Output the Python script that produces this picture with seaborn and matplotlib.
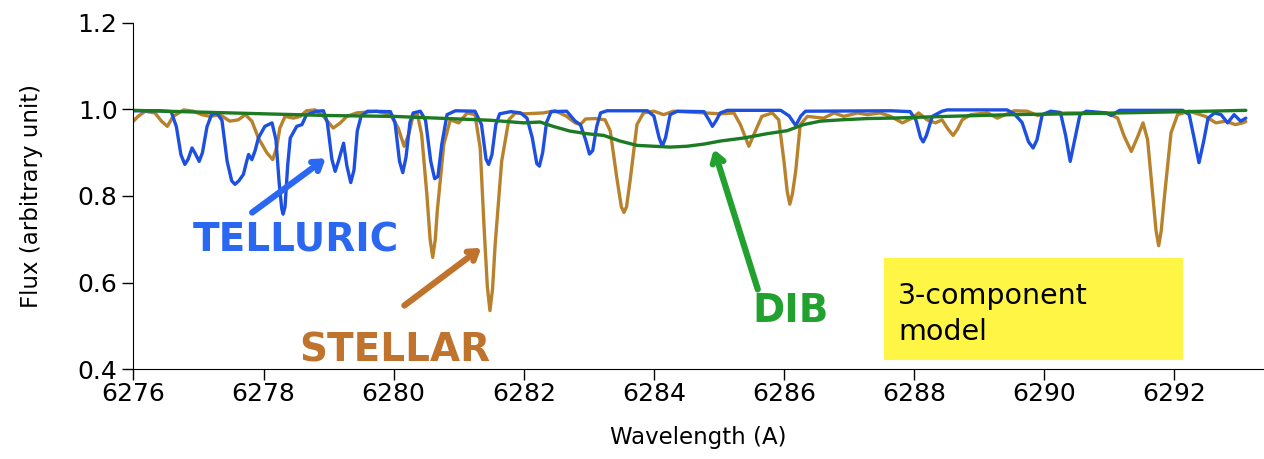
import numpy as np
import pandas as pd
import matplotlib
matplotlib.use("Agg")
import matplotlib.pyplot as plt
from matplotlib.patches import Rectangle
import seaborn as sns

# Componente telúrica (azul)
tel_wl = [6276.00, 6276.40, 6276.58, 6276.66, 6276.73, 6276.79, 6276.84, 6276.90, 6276.95, 6277.01,
          6277.06, 6277.13, 6277.20, 6277.28, 6277.36, 6277.44, 6277.51, 6277.56, 6277.62, 6277.69,
          6277.74, 6277.77, 6277.82, 6277.87, 6277.92, 6278.02, 6278.13, 6278.19, 6278.24, 6278.28,
          6278.30, 6278.33, 6278.37, 6278.41, 6278.51, 6278.59, 6278.66, 6278.82, 6278.92, 6278.98,
          6279.05, 6279.10, 6279.15, 6279.23, 6279.28, 6279.34, 6279.39, 6279.44, 6279.50, 6279.60,
          6279.95, 6280.02, 6280.09, 6280.14, 6280.19, 6280.25, 6280.30, 6280.41, 6280.49, 6280.57,
          6280.63, 6280.68, 6280.74, 6280.82, 6280.95, 6281.25, 6281.35, 6281.42, 6281.46, 6281.51,
          6281.57, 6281.63, 6281.80, 6281.95, 6282.05, 6282.13, 6282.20, 6282.24, 6282.29, 6282.35,
          6282.42, 6282.66, 6282.79, 6282.87, 6282.95, 6283.01, 6283.06, 6283.12, 6283.18, 6283.28,
          6283.90, 6284.00, 6284.08, 6284.13, 6284.18, 6284.25, 6284.36, 6284.77, 6284.85, 6284.90,
          6284.96, 6285.02, 6285.13, 6285.95, 6286.08, 6286.18, 6286.26, 6286.33, 6287.64, 6287.94,
          6288.03, 6288.10, 6288.14, 6288.19, 6288.28, 6288.43, 6288.51, 6289.43, 6289.54, 6289.66,
          6289.76, 6289.83, 6289.89, 6289.97, 6290.10, 6290.25, 6290.33, 6290.40, 6290.47, 6290.55,
          6290.65, 6290.96, 6291.03, 6291.16, 6292.13, 6292.23, 6292.31, 6292.38, 6292.45, 6292.52,
          6292.62, 6292.72, 6292.82, 6292.92, 6293.02, 6293.10]
tel_flux = [0.997, 0.997, 0.995, 0.960, 0.895, 0.873, 0.885, 0.911, 0.898, 0.880,
            0.900, 0.960, 0.988, 0.992, 0.975, 0.880, 0.835, 0.827, 0.835, 0.850,
            0.880, 0.896, 0.884, 0.905, 0.934, 0.961, 0.969, 0.930, 0.830, 0.770,
            0.758, 0.775, 0.870, 0.934, 0.961, 0.965, 0.988, 0.996, 0.997, 0.970,
            0.885, 0.857, 0.880, 0.922, 0.870, 0.831, 0.860, 0.950, 0.985, 0.996,
            0.995, 0.970, 0.880, 0.854, 0.890, 0.970, 0.992, 0.996, 0.975, 0.880,
            0.840, 0.845, 0.920, 0.988, 0.997, 0.996, 0.965, 0.885, 0.873, 0.895,
            0.965, 0.990, 0.995, 0.992, 0.980, 0.935, 0.875, 0.869, 0.900, 0.970,
            0.995, 0.996, 0.973, 0.965, 0.930, 0.897, 0.905, 0.960, 0.992, 0.997,
            0.997, 0.985, 0.935, 0.915, 0.935, 0.988, 0.996, 0.995, 0.975, 0.961,
            0.975, 0.992, 0.998, 0.998, 0.985, 0.963, 0.985, 0.996, 0.997, 0.995,
            0.975, 0.935, 0.925, 0.940, 0.984, 0.996, 0.999, 0.999, 0.990, 0.970,
            0.925, 0.911, 0.930, 0.988, 0.996, 0.993, 0.940, 0.880, 0.930, 0.988,
            0.996, 0.992, 0.986, 0.998, 0.998, 0.988, 0.930, 0.877, 0.925, 0.980,
            0.992, 0.988, 0.969, 0.988, 0.973, 0.980]

# Componente estelar (marrom)
ste_wl = [6276.00, 6276.07, 6276.18, 6276.33, 6276.43, 6276.52, 6276.61, 6276.77, 6276.92, 6277.05,
          6277.18, 6277.33, 6277.48, 6277.61, 6277.72, 6277.82, 6277.92, 6278.05, 6278.14, 6278.20,
          6278.25, 6278.33, 6278.46, 6278.56, 6278.66, 6278.79, 6278.92, 6279.07, 6279.18, 6279.28,
          6279.43, 6279.74, 6279.95, 6280.07, 6280.16, 6280.23, 6280.29, 6280.36, 6280.43, 6280.51,
          6280.56, 6280.60, 6280.64, 6280.67, 6280.77, 6280.87, 6281.00, 6281.13, 6281.25, 6281.33,
          6281.39, 6281.44, 6281.48, 6281.52, 6281.56, 6281.66, 6281.77, 6281.87, 6282.02, 6282.30,
          6282.48, 6282.65, 6282.79, 6282.87, 6282.95, 6283.10, 6283.25, 6283.33, 6283.43, 6283.50,
          6283.54, 6283.58, 6283.64, 6283.74, 6283.84, 6284.00, 6284.15, 6284.30, 6284.77, 6285.02,
          6285.23, 6285.33, 6285.46, 6285.56, 6285.66, 6285.82, 6285.92, 6286.00, 6286.05, 6286.09,
          6286.13, 6286.18, 6286.25, 6286.36, 6286.61, 6286.77, 6286.92, 6287.13, 6287.28, 6287.48,
          6287.64, 6287.82, 6287.97, 6288.07, 6288.20, 6288.33, 6288.43, 6288.52, 6288.60, 6288.67,
          6288.74, 6288.87, 6289.13, 6289.28, 6289.54, 6289.74, 6289.90, 6290.05, 6290.38, 6290.69,
          6291.00, 6291.13, 6291.23, 6291.34, 6291.44, 6291.52, 6291.59, 6291.67, 6291.72, 6291.76,
          6291.80, 6291.85, 6291.95, 6292.05, 6292.23, 6292.48, 6292.64, 6292.79, 6292.94, 6293.05,
          6293.10]
ste_flux = [0.973, 0.984, 0.996, 0.992, 0.973, 0.961, 0.984, 0.999, 0.996, 0.988,
            0.984, 0.988, 0.973, 0.976, 0.988, 0.973, 0.934, 0.900, 0.884, 0.911,
            0.957, 0.984, 0.980, 0.984, 0.997, 0.999, 0.984, 0.957, 0.969, 0.984,
            0.992, 0.996, 0.988, 0.957, 0.915, 0.942, 0.980, 0.992, 0.942, 0.804,
            0.700, 0.658, 0.700, 0.765, 0.919, 0.976, 0.969, 0.992, 0.988, 0.911,
            0.727, 0.590, 0.535, 0.585, 0.688, 0.880, 0.976, 0.992, 0.990, 0.992,
            0.997, 0.985, 0.969, 0.965, 0.978, 0.979, 0.976, 0.950, 0.842, 0.775,
            0.762, 0.775, 0.842, 0.965, 0.992, 0.996, 0.988, 0.996, 0.992, 0.990,
            0.992, 0.965, 0.915, 0.950, 0.984, 0.992, 0.976, 0.880, 0.810, 0.781,
            0.805, 0.857, 0.965, 0.984, 0.980, 0.992, 0.984, 0.992, 0.988, 0.992,
            0.984, 0.969, 0.980, 0.992, 0.976, 0.969, 0.976, 0.955, 0.940, 0.955,
            0.976, 0.988, 0.992, 0.980, 0.997, 0.996, 0.986, 0.990, 0.992, 0.992,
            0.990, 0.980, 0.938, 0.903, 0.938, 0.969, 0.930, 0.800, 0.720, 0.685,
            0.720, 0.800, 0.946, 0.988, 0.996, 0.984, 0.969, 0.973, 0.965, 0.969,
            0.972]

# Componente DIB (verde)
dib_wl = [6276.00, 6277.00, 6278.00, 6279.00, 6280.00, 6281.00, 6281.50, 6282.00, 6282.25, 6282.45,
          6282.71, 6282.97, 6283.23, 6283.48, 6283.74, 6284.00, 6284.25, 6284.51, 6284.77, 6285.02,
          6285.38, 6285.74, 6286.05, 6286.30, 6286.56, 6286.87, 6287.28, 6287.64, 6288.50, 6289.50,
          6290.40, 6291.50, 6292.50, 6293.10]
dib_flux = [0.998, 0.994, 0.990, 0.986, 0.984, 0.978, 0.975, 0.969, 0.971, 0.961,
            0.950, 0.944, 0.940, 0.927, 0.917, 0.915, 0.913, 0.915, 0.920, 0.927,
            0.934, 0.944, 0.951, 0.965, 0.973, 0.976, 0.979, 0.980, 0.984, 0.988,
            0.990, 0.993, 0.996, 0.998]

x_ticks = [6276, 6278, 6280, 6282, 6284, 6286, 6288, 6290, 6292]
y_ticks = [0.4, 0.6, 0.8, 1.0, 1.2]

sns.set_style("ticks")
plt.rcParams['font.family'] = ['DejaVu Sans']

fig = plt.figure(figsize=(12.64, 4.59), dpi=100)
ax = fig.add_axes([0.1056, 0.196, 0.8934, 0.754])

df_ste = pd.DataFrame({'wl': ste_wl, 'flux': ste_flux})
df_tel = pd.DataFrame({'wl': tel_wl, 'flux': tel_flux})
df_dib = pd.DataFrame({'wl': dib_wl, 'flux': dib_flux})

sns.lineplot(data=df_ste, x='wl', y='flux', color='#b8822c', lw=2.4, estimator=None, ax=ax)
sns.lineplot(data=df_tel, x='wl', y='flux', color='#1d4fe0', lw=2.4, estimator=None, ax=ax)
sns.lineplot(data=df_dib, x='wl', y='flux', color='#1c7a22', lw=2.4, estimator=None, ax=ax)

ax.set_xlim(6276, 6293.36)
ax.set_ylim(0.4, 1.2)
ax.set_xticks(x_ticks)
ax.set_yticks(y_ticks)
ax.set_yticklabels([f'{v:.1f}' for v in y_ticks])
ax.tick_params(axis='both', labelsize=18, length=8, width=1, colors='black')
ax.tick_params(axis='x', pad=1)
ax.set_xlabel('Wavelength (A)', fontsize=16.5, labelpad=15, color='black')
ax.set_ylabel('Flux (arbitrary unit)', fontsize=16.5, labelpad=25, color='black')
for s in ['left', 'bottom']:
    ax.spines[s].set_color('black')
sns.despine(ax=ax)

# Anotações
seta = '->,head_length=0.6,head_width=0.4'
ax.annotate('', xy=(6278.99, 0.891), xytext=(6277.79, 0.758),
            arrowprops=dict(arrowstyle=seta, color='#2b68f2', lw=4.5))
ax.text(6278.5, 0.698, 'TELLURIC', color='#2b68f2', fontsize=28, fontweight='bold',
        ha='center', va='center')

ax.annotate('', xy=(6281.38, 0.684), xytext=(6280.13, 0.543),
            arrowprops=dict(arrowstyle=seta, color='#c0732c', lw=4.5))
ax.text(6280.02, 0.442, 'STELLAR', color='#c0732c', fontsize=28, fontweight='bold',
        ha='center', va='center')

ax.annotate('', xy=(6284.91, 0.914), xytext=(6285.61, 0.578),
            arrowprops=dict(arrowstyle=seta, color='#23a12f', lw=4.5))
ax.text(6286.1, 0.534, 'DIB', color='#23a12f', fontsize=28, fontweight='bold',
        ha='center', va='center')

fig.patches.append(Rectangle((0.699, 0.2157), 0.2373, 0.222, transform=fig.transFigure,
                             facecolor='#fff545', edgecolor='none', zorder=0))
fig.text(0.7104, 0.316, '3-component\nmodel', fontsize=20.5, color='black',
         ha='left', va='center', linespacing=1.35)

fig.savefig('out.png', dpi=100)
